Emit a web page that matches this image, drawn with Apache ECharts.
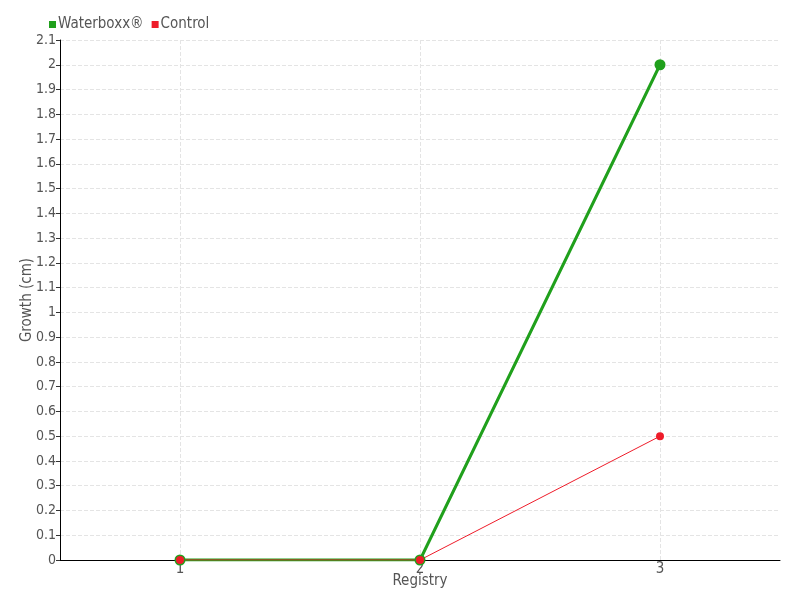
<!DOCTYPE html>
<html><head><meta charset="utf-8">
<script src="https://cdn.jsdelivr.net/npm/echarts@6/dist/echarts.min.js"></script>
<style>html,body{margin:0;padding:0;background:#fff}#c{width:800px;height:600px}</style>
</head><body><div id="c"></div>
<script>
const categories = ['1', '2', '3'];
const waterboxx = [0, 0, 2];
const control = [0, 0, 0.5];
const seriesNames = ['Waterboxx®', 'Control'];
const font = '"Liberation Sans Narrow", "DejaVu Sans Condensed", sans-serif';
const chart = echarts.init(document.getElementById('c'));
chart.setOption({
  animation: false,
  textStyle: { fontFamily: font },
  legend: {
    left: 44, top: 12, itemWidth: 7, itemHeight: 7, itemGap: 8,
    icon: 'rect',
    textStyle: { fontFamily: font, fontSize: 15, color: '#555', padding: [0, 0, 0, -3] },
    data: seriesNames
  },
  grid: { left: 60, right: 20, top: 40, bottom: 40 },
  xAxis: {
    type: 'category', data: categories, boundaryGap: true,
    name: 'Registry', nameLocation: 'middle', nameGap: 14, nameMoveOverlap: false,
    nameTextStyle: { fontFamily: font, fontSize: 15, color: '#555' },
    axisLine: { lineStyle: { color: '#000' } },
    axisTick: { alignWithLabel: true, length: 6, lineStyle: { color: '#555' } },
    axisLabel: { fontFamily: font, fontSize: 15, color: '#555', margin: 2 },
    splitLine: { show: true, alignWithLabel: true, lineStyle: { type: 'dashed', color: '#e4e4e4' } }
  },
  yAxis: {
    type: 'value', min: 0, max: 2.1, interval: 0.1,
    name: 'Growth (cm)', nameLocation: 'middle', nameGap: 25, nameMoveOverlap: false,
    nameTextStyle: { fontFamily: font, fontSize: 15, color: '#555' },
    axisLine: { show: true, lineStyle: { color: '#000' } },
    axisTick: { show: true, length: 4, lineStyle: { color: '#333' } },
    axisLabel: { fontFamily: font, fontSize: 14, color: '#555', margin: 4,
      formatter: v => String(Math.round(v * 10) / 10) },
    splitLine: { show: true, lineStyle: { type: 'dashed', color: '#e4e4e4' } }
  },
  series: [
    { name: seriesNames[0], type: 'line', data: waterboxx, symbol: 'circle', symbolSize: 11,
      itemStyle: { color: '#20a01c' }, lineStyle: { width: 3, color: '#20a01c' } },
    { name: seriesNames[1], type: 'line', data: control, symbol: 'circle', symbolSize: 8,
      itemStyle: { color: '#ee1c2a' }, lineStyle: { width: 1, color: '#ee1c2a' } }
  ]
});
</script></body></html>
